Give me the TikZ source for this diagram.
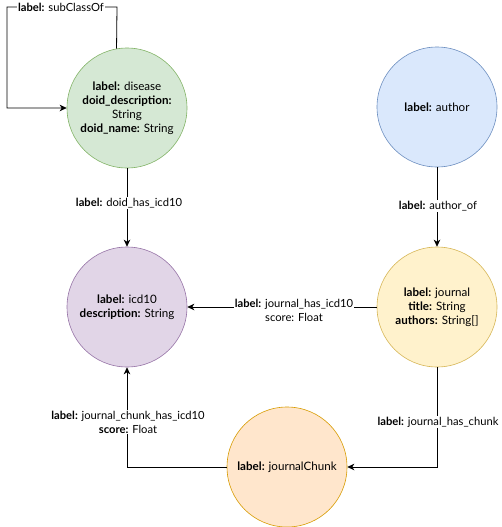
\documentclass[tikz,border=0pt]{standalone}
\usepackage{fontspec}
\setmainfont{Lato}
\usetikzlibrary{arrows.meta}
\definecolor{gF}{HTML}{D5E8D4}\definecolor{gD}{HTML}{82B366}
\definecolor{bF}{HTML}{DAE8FC}\definecolor{bD}{HTML}{6C8EBF}
\definecolor{pF}{HTML}{E1D5E7}\definecolor{pD}{HTML}{9673A6}
\definecolor{yF}{HTML}{FFF2CC}\definecolor{yD}{HTML}{D6B656}
\definecolor{oF}{HTML}{FFE6CC}\definecolor{oD}{HTML}{D79B00}
\begin{document}
\begin{tikzpicture}[x=1pt,y=-1pt,
  ent/.style={circle,minimum size=120pt,inner sep=0pt,align=center,line width=0.6pt,font=\fontsize{11.6}{14}\selectfont},
  edge/.style={line width=0.8pt,-{Stealth[length=7pt,width=6.5pt,inset=2pt]}},
  lbl/.style={fill=white,inner sep=1pt,align=center,font=\fontsize{11.2}{14}\selectfont}]
\useasboundingbox (0,0) rectangle (501,527);
\node[ent,fill=gF,draw=gD] (disease) at (127,108) {\textbf{label:} disease\\\textbf{doid\_description:}\\String\\\textbf{doid\_name:} String};
\node[ent,fill=bF,draw=bD] (author) at (437,107) {\textbf{label:} author};
\node[ent,fill=pF,draw=pD] (icd10) at (127,307) {\textbf{label:} icd10\\\textbf{description:} String};
\node[ent,fill=yF,draw=yD] (journal) at (437,307) {\textbf{label:} journal\\\textbf{title:} String\\\textbf{authors:} String[]};
\node[ent,fill=oF,draw=oD] (chunk) at (287,467) {\textbf{label:} journalChunk};
\coordinate (c1) at (117,7);
\coordinate (c2) at (7,7);
\coordinate (c3) at (7,108);
\draw[edge] (disease.100) -- (c1) -- (c2) -- (c3) -- (disease.west);
\draw[edge] (disease) -- (icd10);
\draw[edge] (author) -- (journal);
\draw[edge] (journal) -- (icd10);
\draw[edge] (journal.south) |- (chunk.east);
\draw[edge] (chunk.west) -| (icd10.south);
\node[lbl] (l1) at (61,7) {\textbf{label:} subClassOf};
\node[lbl] (l2) at (129,203) {\textbf{label:} doid\_has\_icd10};
\node[lbl] (l3) at (438,206) {\textbf{label:} author\_of};
\node[lbl] (l4) at (294,310) {\textbf{label:} journal\_has\_icd10\\score: Float};
\node[lbl] (l5) at (438,422) {\textbf{label:} journal\_has\_chunk};
\node[lbl] (l6) at (128,422) {\textbf{label:} journal\_chunk\_has\_icd10\\\textbf{score:} Float};
\end{tikzpicture}
\end{document}
